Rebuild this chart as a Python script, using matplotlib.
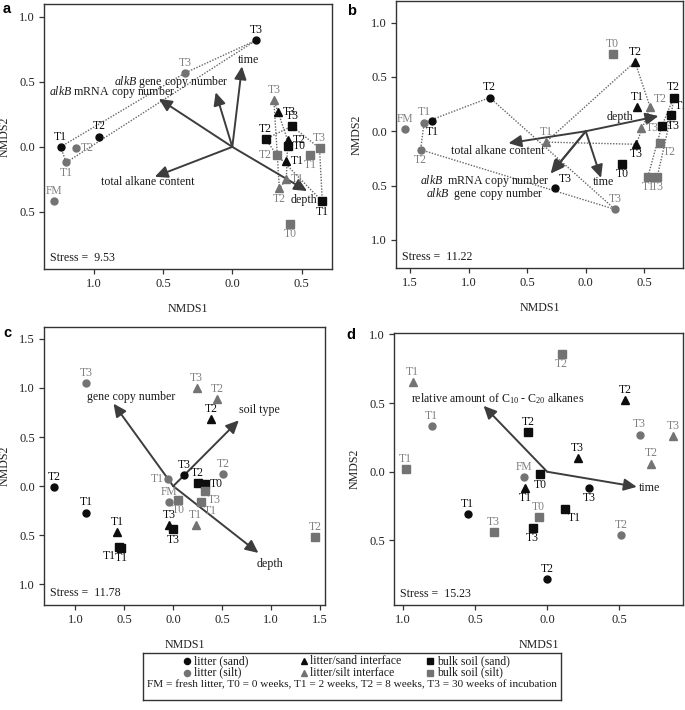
import numpy as np
import matplotlib
matplotlib.use("Agg")
import matplotlib.pyplot as plt

plt.rcParams['font.family'] = ['Liberation Serif', 'DejaVu Serif']
plt.rcParams['mathtext.fontset'] = 'custom'
plt.rcParams['mathtext.rm'] = 'Liberation Serif'
plt.rcParams['mathtext.it'] = 'Liberation Serif:italic'

# ---------------- DATA ----------------
# sample type codes: LS litter(sand) LI litter(silt) IS interface(sand) II interface(silt) BS bulk(sand) BI bulk(silt)
a_type = ['LS', 'LS', 'LS', 'LI', 'LI', 'LI', 'LI', 'II', 'IS', 'BS', 'BS', 'IS', 'BS', 'BI', 'BI', 'BI', 'IS', 'II', 'II', 'BS', 'BI']
a_time = ['T1', 'T2', 'T3', 'FM', 'T1', 'T2', 'T3', 'T3', 'T3', 'T3', 'T2', 'T2', 'T0', 'T3', 'T2', 'T1', 'T1', 'T1', 'T2', 'T1', 'T0']
a_x = [-1.24, -0.96, 0.17, -1.29, -1.20, -1.13, -0.34, 0.30, 0.33, 0.43, 0.24, 0.40, 0.40, 0.63, 0.32, 0.56, 0.39, 0.39, 0.34, 0.65, 0.42]
a_y = [0.00, 0.08, 0.82, -0.42, -0.12, -0.005, 0.57, 0.36, 0.27, 0.16, 0.06, 0.05, 0.01, -0.01, -0.06, -0.06, -0.11, -0.25, -0.32, -0.42, -0.59]

b_type = ['LI', 'LI', 'LS', 'LI', 'LS', 'LS', 'LI', 'BI', 'IS', 'IS', 'II', 'II', 'IS', 'II', 'BS', 'BS', 'BS', 'BI', 'BI', 'BI', 'BS']
b_time = ['FM', 'T1', 'T1', 'T2', 'T2', 'T3', 'T3', 'T0', 'T2', 'T1', 'T2', 'T3', 'T3', 'T1', 'T2', 'T1', 'T3', 'T2', 'T1', 'T3', 'T0']
b_x = [-1.54, -1.38, -1.31, -1.41, -0.82, -0.26, 0.25, 0.23, 0.42, 0.44, 0.55, 0.47, 0.43, -0.34, 0.75, 0.73, 0.65, 0.63, 0.53, 0.61, 0.31]
b_y = [0.02, 0.08, 0.09, -0.17, 0.31, -0.52, -0.72, 0.71, 0.64, 0.22, 0.22, 0.03, -0.12, -0.10, 0.31, 0.15, 0.05, -0.11, -0.42, -0.42, -0.30]

c_type = ['LI', 'LS', 'LS', 'IS', 'BS', 'BS', 'LI', 'LS', 'LI', 'BI', 'IS', 'BS', 'II', 'BS', 'BS', 'BI', 'BI', 'LI', 'IS', 'II', 'II', 'BI']
c_time = ['T3', 'T2', 'T1', 'T1', 'T1', 'T1', 'T1', 'T3', 'FM', 'T0', 'T3', 'T3', 'T1', 'T2', 'T0', 'T3', 'T1', 'T2', 'T2', 'T3', 'T2', 'T2']
c_x = [-0.89, -1.22, -0.89, -0.57, -0.53, -0.55, -0.05, 0.11, -0.04, 0.05, -0.04, 0.00, 0.23, 0.25, 0.32, 0.32, 0.28, 0.51, 0.39, 0.24, 0.45, 1.45]
c_y = [1.05, -0.01, -0.27, -0.47, -0.63, -0.62, 0.07, 0.11, -0.16, -0.14, -0.40, -0.44, -0.40, 0.03, 0.02, -0.05, -0.16, 0.12, 0.68, 1.00, 0.89, -0.52]

d_type = ['II', 'LI', 'BI', 'LS', 'BI', 'BI', 'BS', 'LI', 'BS', 'IS', 'BI', 'BS', 'BS', 'LS', 'IS', 'LS', 'IS', 'LI', 'II', 'II', 'LI']
d_time = ['T1', 'T1', 'T1', 'T1', 'T3', 'T2', 'T2', 'FM', 'T0', 'T1', 'T0', 'T3', 'T1', 'T2', 'T3', 'T3', 'T2', 'T3', 'T3', 'T2', 'T2']
d_x = [-0.93, -0.80, -0.98, -0.55, -0.37, 0.10, -0.13, -0.16, -0.05, -0.15, -0.06, -0.10, 0.12, 0.00, 0.21, 0.29, 0.54, 0.64, 0.87, 0.72, 0.51]
d_y = [0.65, 0.33, 0.02, -0.31, -0.44, 0.86, 0.29, -0.04, -0.02, -0.12, -0.33, -0.41, -0.27, -0.78, 0.10, -0.12, 0.52, 0.27, 0.26, 0.06, -0.46]

# environmental vectors
a_vec_names = ['time', r'$\it{alkB}$ gene copy number', r'$\it{alkB}$ mRNA copy number', 'total alkane content', 'depth']
a_vec_x = [0.07, -0.12, -0.53, -0.56, 0.54]
a_vec_y = [0.62, 0.42, 0.37, -0.23, -0.34]

b_vec_names = ['depth', 'total alkane content', r'$\it{alkB}$  mRNA copy number', r'$\it{alkB}$  gene copy number', 'time']
b_vec_x = [0.62, -0.66, -0.30, -0.29, 0.13]
b_vec_y = [0.14, -0.11, -0.39, -0.38, -0.43]

c_vec_names = ['gene copy number', 'soil type', 'depth']
c_vec_x = [-0.61, 0.67, 0.87]
c_vec_y = [0.84, 0.67, -0.68]

d_vec_names = [r'relative amount of C$_{10}$ - C$_{20}$ alkanes', 'time']
d_vec_x = [-0.44, 0.62]
d_vec_y = [0.48, -0.11]

stress = ['9.53', '11.22', '11.78', '15.23']

legend_names = ['litter (sand)', 'litter/sand interface', 'bulk soil (sand)',
                'litter (silt)', 'litter/silt interface', 'bulk soil (silt)']
legend_note = 'FM = fresh litter, T0 = 0 weeks, T1 = 2 weeks, T2 = 8 weeks, T3 = 30 weeks of incubation'

# ---------------- LAYOUT / STYLE ----------------
a_lab = ['a', 'a', 'a', 'a', 'b', 'r', 'a', 'a', 'r', 'a', 'a', 'r', 'r', 'a', 'l', 'b', 'r', 'r', 'b', 'b', 'b']
b_lab = ['a', 'a', 'b', 'b', 'a', 'ar', 'a', 'a', 'a', 'a', 'ar', 'r', 'b', 'a', 'a', 'ar', 'r', 'br', 'b', 'b', 'b']
c_lab = ['a', 'a', 'a', 'a', 'b', 'bl', 'l', 'a', 'a', 'b', 'a', 'b', 'a', 'a', 'r', 'br', 'br', 'a', 'a', 'a', 'a', 'a']
d_lab = ['a', 'a', 'a', 'a', 'a', 'b', 'a', 'a', 'b', 'b', 'a', 'b', 'br', 'a', 'a', 'b', 'a', 'a', 'a', 'a', 'a']

a_vlab = [(0.12, 0.67), (-0.44, 0.50), (-0.87, 0.42), (-0.61, -0.27), (0.52, -0.41)]
b_vlab = [(0.29, 0.13), (-0.75, -0.18), (-0.86, -0.46), (-0.86, -0.58), (0.15, -0.47)]
c_vlab = [(-0.43, 0.905), (0.88, 0.77), (0.99, -0.79)]
d_vlab = [(-0.34, 0.53), (0.71, -0.12)]

BLACK = '#0d0d0d'
GRAY = '#737373'
GRAYTXT = '#808080'
ARROW = '#3d3d3d'
SPINE = '#333333'
STY = {'LS': ('o', BLACK), 'LI': ('o', GRAY), 'IS': ('^', BLACK), 'II': ('^', GRAY),
       'BS': ('s', BLACK), 'BI': ('s', GRAY)}
MS = {'o': 5.0, '^': 5.6, 's': 5.1}
OFF = {'a': ((0, 3.0), 'center', 'bottom'), 'b': ((0, -3.0), 'center', 'top'),
       'r': ((3.5, 0), 'left', 'center'), 'l': ((-3.5, 0), 'right', 'center'),
       'ar': ((2.5, 2.0), 'left', 'bottom'), 'br': ((2.5, -2.0), 'left', 'top'),
       'bl': ((-2.5, -2.0), 'right', 'top'), 'al': ((-2.5, 2.0), 'right', 'bottom')}

FS = 8.4

W, H = 685, 710
fig = plt.figure(figsize=(W / 100, H / 100), dpi=100)
fig.patch.set_facecolor('white')


def px_axes(l, t, r, b):
    return fig.add_axes([l / W, 1 - b / H, (r - l) / W, (b - t) / H])


def hull(pts):
    pts = sorted(set(pts))
    if len(pts) < 3:
        return pts

    def cross(o, a, b):
        return (a[0] - o[0]) * (b[1] - o[1]) - (a[1] - o[1]) * (b[0] - o[0])
    lower, upper = [], []
    for p in pts:
        while len(lower) >= 2 and cross(lower[-2], lower[-1], p) <= 0:
            lower.pop()
        lower.append(p)
    for p in reversed(pts):
        while len(upper) >= 2 and cross(upper[-2], upper[-1], p) <= 0:
            upper.pop()
        upper.append(p)
    return lower[:-1] + upper[:-1]


def fmt(v, pos):
    return f"{abs(v):.1f}"


def panel(ax, xs, ys, types, times, labpos, vx, vy, vnames, vlab, xlim, ylim, xt, yt,
          st, draw_hull):
    ax.set_xlim(*xlim)
    ax.set_ylim(*ylim)
    ax.set_xticks(xt)
    ax.set_yticks(yt)
    ax.xaxis.set_major_formatter(plt.FuncFormatter(fmt))
    ax.yaxis.set_major_formatter(plt.FuncFormatter(fmt))
    ax.tick_params(direction='out', length=3.5, width=0.9, colors=SPINE, labelsize=9,
                   pad=3, labelcolor='#222222')
    for s in ax.spines.values():
        s.set_color(SPINE)
        s.set_linewidth(1.0)
    ax.set_xlabel('NMDS1', fontsize=8.6, labelpad=9, color='#222222')
    ax.set_ylabel('NMDS2', fontsize=8.6, labelpad=6, color='#222222')

    if draw_hull:
        groups = [(['LS', 'LI'], 'FM'), (['IS', 'II'], None), (['BS', 'BI'], 'T0')]
        for codes, excl in groups:
            pts = [(x, y) for x, y, t, tm in zip(xs, ys, types, times)
                   if t in codes and tm != excl]
            h = hull(pts)
            h = h + [h[0]]
            ax.plot([p[0] for p in h], [p[1] for p in h], ls=(0, (1, 1.1)),
                    color='#666666', lw=1.0, zorder=1)

    for dx, dy in zip(vx, vy):
        ax.annotate('', xy=(dx, dy), xytext=(0, 0),
                    arrowprops=dict(arrowstyle='-|>,head_length=0.7,head_width=0.33',
                                    color=ARROW, lw=1.4, shrinkA=0, shrinkB=0,
                                    mutation_scale=11), zorder=2)
    for name, (lx, ly) in zip(vnames, vlab):
        ax.text(lx, ly, name, fontsize=8.6, ha='center', va='center', color='#1a1a1a', zorder=4)

    for x, y, t, tm, lp in zip(xs, ys, types, times, labpos):
        m, c = STY[t]
        ax.plot([x], [y], marker=m, ms=MS[m], color=c, mec=c, ls='none', zorder=3)
        off, ha, va = OFF[lp]
        ax.annotate(tm, (x, y), xytext=off, textcoords='offset points', ha=ha, va=va,
                    fontsize=FS, color=BLACK if c == BLACK else GRAYTXT, zorder=4,
                    annotation_clip=False, clip_on=True)

    ax.text(0.02, 0.02, 'Stress =  ' + st, transform=ax.transAxes, fontsize=8.6,
            ha='left', va='bottom', color='#1a1a1a')


ax_a = px_axes(44, 4, 332, 269)
ax_b = px_axes(396, 1, 683, 268)
ax_c = px_axes(44, 327, 325, 605)
ax_d = px_axes(394, 333, 683, 605)

panel(ax_a, a_x, a_y, a_type, a_time, a_lab, a_vec_x, a_vec_y, a_vec_names, a_vlab,
      (-1.36, 0.72), (-0.94, 1.10), [-1.0, -0.5, 0.0, 0.5], [-0.5, 0.0, 0.5, 1.0],
      stress[0], True)
panel(ax_b, b_x, b_y, b_type, b_time, b_lab, b_vec_x, b_vec_y, b_vec_names, b_vlab,
      (-1.62, 0.83), (-1.26, 1.20), [-1.5, -1.0, -0.5, 0.0, 0.5], [-1.0, -0.5, 0.0, 0.5, 1.0],
      stress[1], True)
panel(ax_c, c_x, c_y, c_type, c_time, c_lab, c_vec_x, c_vec_y, c_vec_names, c_vlab,
      (-1.32, 1.55), (-1.21, 1.62), [-1.0, -0.5, 0.0, 0.5, 1.0, 1.5],
      [-1.0, -0.5, 0.0, 0.5, 1.0, 1.5], stress[2], False)
panel(ax_d, d_x, d_y, d_type, d_time, d_lab, d_vec_x, d_vec_y, d_vec_names, d_vlab,
      (-1.06, 0.94), (-0.97, 1.01), [-1.0, -0.5, 0.0, 0.5], [-0.5, 0.0, 0.5, 1.0],
      stress[3], False)

for lt, (x, y) in zip('abcd', [(3, 9), (347, 11), (3, 333), (346, 335)]):
    fig.text(x / W, 1 - y / H, lt, fontsize=10.5, fontweight='bold',
             family=['Liberation Sans', 'DejaVu Sans'], ha='left', va='center')

# ---------------- LEGEND BOX ----------------
lg = px_axes(143, 653, 561, 700)
lg.set_xlim(143, 561)
lg.set_ylim(700, 653)
lg.set_xticks([])
lg.set_yticks([])
for s in lg.spines.values():
    s.set_color(SPINE)
    s.set_linewidth(1.0)
mk_x = [187, 304, 430]
tx_x = [194, 310, 437]
row_y = [661, 672.5]
codes = ['LS', 'IS', 'BS', 'LI', 'II', 'BI']
for i, (name, code) in enumerate(zip(legend_names, codes)):
    r, col = divmod(i, 3)
    m, c = STY[code]
    lg.plot([mk_x[col]], [row_y[r]], marker=m, ms=4.4, color=c, ls='none')
    lg.text(tx_x[col], row_y[r], name, fontsize=8.5, ha='left', va='center', color='#1a1a1a')
lg.text(352, 684.5, legend_note, fontsize=8.1, ha='center', va='center', color='#1a1a1a')

fig.savefig('out.png', dpi=100, facecolor='white')
